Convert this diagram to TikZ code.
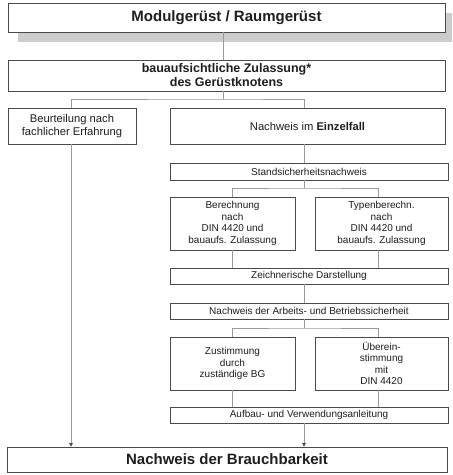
\documentclass[tikz,border=0pt]{standalone}
\usepackage{fontspec}
\setmainfont{Liberation Sans}
\usetikzlibrary{arrows.meta}
\definecolor{boxline}{HTML}{4A4A4A}
\definecolor{connline}{HTML}{9A9A9A}
\definecolor{txt}{HTML}{1E1E1E}
\tikzset{
  box/.style={draw=boxline, line width=0.7pt, fill=white, text=txt, align=center, inner sep=0pt, anchor=center},
  bigfont/.style={font=\fontsize{15}{17}\selectfont\bfseries},
  midfont/.style={font=\fontsize{12.5}{14}\selectfont\bfseries},
  medfont/.style={font=\fontsize{11.2}{12.5}\selectfont},
  smallfont/.style={font=\fontsize{10}{11.5}\selectfont},
  conn/.style={draw=connline, line width=0.6pt},
  arr/.style={conn, -{Triangle[length=3.5pt,width=3.5pt,color=boxline]}},
}
\begin{document}
\begin{tikzpicture}[x=1pt,y=-1pt]
\useasboundingbox (0,0) rectangle (453,475);
% shadow of top box
\fill[gray!40] (18,13) rectangle (452,42);
% column coordinates
\coordinate (cT) at (223,0);
\coordinate (cL) at (71,0);
\coordinate (cM) at (304,0);
\coordinate (cA) at (232,0);
\coordinate (cB) at (378,0);
\coordinate (j1) at (223,99);
\coordinate (j2) at (304,188);
\coordinate (j3) at (304,328);
% nodes
\node[box, bigfont, minimum width=437pt, minimum height=29pt] (top) at (226.5,17.5) {Modulgerüst / Raumgerüst};
\node[box, midfont, minimum width=437pt, minimum height=31pt] (zul) at (226.5,75.5) {bauaufsichtliche Zulassung*\\des Gerüstknotens};
\node[box, medfont, minimum width=128pt, minimum height=36pt] (beurt) at (72,126) {Beurteilung nach\\fachlicher Erfahrung};
\node[box, medfont, minimum width=275pt, minimum height=36pt] (einzel) at (307.5,126) {Nachweis im \textbf{Einzelfall}};
\node[box, smallfont, minimum width=278pt, minimum height=17pt] (stands) at (309,171.5) {Standsicherheitsnachweis};
\node[box, smallfont, minimum width=125pt, minimum height=53pt] (berech) at (232.5,223.5) {Berechnung\\nach\\DIN 4420 und\\bauaufs. Zulassung};
\node[box, smallfont, minimum width=133pt, minimum height=53pt] (typen) at (381.5,223.5) {Typenberechn.\\nach\\DIN 4420 und\\bauaufs. Zulassung};
\node[box, smallfont, minimum width=278pt, minimum height=16pt] (zeichn) at (309,276) {Zeichnerische Darstellung};
\node[box, smallfont, minimum width=278pt, minimum height=16pt] (arbeit) at (309,311) {Nachweis der Arbeits- und Betriebssicherheit};
\node[box, smallfont, minimum width=125pt, minimum height=53pt] (zust) at (232.5,363.5) {Zustimmung\\durch\\zuständige BG};
\node[box, smallfont, minimum width=133pt, minimum height=53pt] (ueber) at (381.5,363.5) {Überein-\\stimmung\\mit\\DIN 4420};
\node[box, smallfont, minimum width=278pt, minimum height=16pt] (aufbau) at (309,415) {Aufbau- und Verwendungsanleitung};
\node[box, bigfont, minimum width=440pt, minimum height=25pt] (brauch) at (227,459.5) {Nachweis der Brauchbarkeit};
% connectors
\draw[conn] (top.south -| cT) -- (zul.north -| cT);
\draw[conn] (zul.south -| j1) -- (j1);
\draw[conn] (beurt.north -| cL) |- (j1) -| (einzel.north -| cM);
\draw[conn] (einzel.south -| cM) -- (stands.north -| cM);
\draw[conn] (stands.south -| j2) -- (j2);
\draw[conn] (berech.north -| cA) |- (j2) -| (typen.north -| cB);
\draw[conn] (berech.south -| cA) -- (zeichn.north -| cA);
\draw[conn] (typen.south -| cB) -- (zeichn.north -| cB);
\draw[conn] (zeichn.south -| cM) -- (arbeit.north -| cM);
\draw[conn] (arbeit.south -| j3) -- (j3);
\draw[conn] (zust.north -| cA) |- (j3) -| (ueber.north -| cB);
\draw[conn] (zust.south -| cA) -- (aufbau.north -| cA);
\draw[conn] (ueber.south -| cB) -- (aufbau.north -| cB);
\draw[arr] (beurt.south -| cL) -- (brauch.north -| cL);
\draw[arr] (aufbau.south -| cM) -- (brauch.north -| cM);
\end{tikzpicture}
\end{document}
